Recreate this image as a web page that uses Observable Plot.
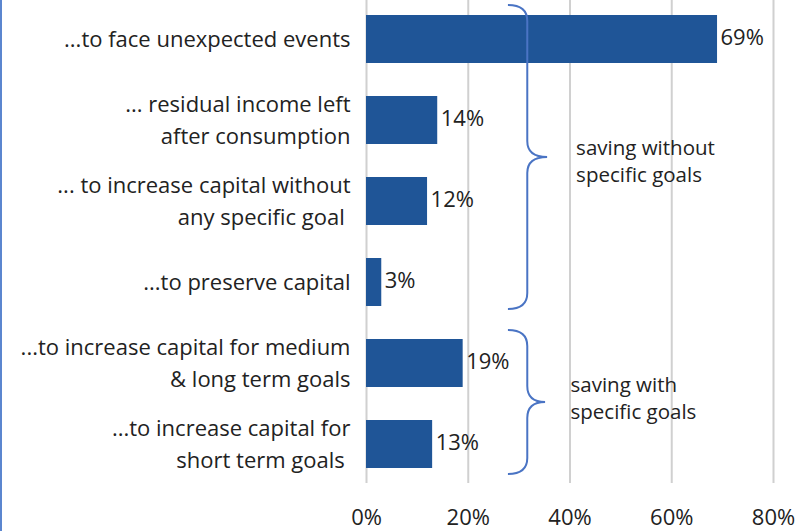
<!DOCTYPE html>
<html>
<head>
<meta charset="utf-8">
<script src="https://cdn.jsdelivr.net/npm/d3@7"></script>
<script src="https://cdn.jsdelivr.net/npm/@observablehq/plot@0.6"></script>
<style>
  html, body { margin: 0; padding: 0; background: #fff; }
  #wrap { position: relative; width: 805px; height: 531px; }
  #edge { position: absolute; left: 0; top: 0; width: 2px; height: 531px; background: #5b86cf; }
</style>
</head>
<body>
<div id="wrap"><div id="edge"></div></div>
<script>
const categories = [
  "...to face unexpected events",
  "... residual income left\nafter consumption",
  "... to increase capital without\nany specific goal\u00a0",
  "...to preserve capital",
  "...to increase capital for medium\n& long term goals",
  "...to increase capital for\nshort term goals\u00a0"
];
const values = [69, 14, 12, 3, 19, 13];
const xTicks = [0, 20, 40, 60, 80];
const groupLabels = ["saving without\nspecific goals", "saving with\nspecific goals"];
const groupFirst = [categories[0], categories[4]];
const groupLast = [categories[3], categories[5]];

const rows = categories.map((c, i) => ({category: c, value: values[i]}));
const groups = groupLabels.map((g, i) => ({label: g, first: groupFirst[i], last: groupLast[i]}));

const FONT = "'Open Sans', sans-serif";
const BLUE = "#1f5597";
const BRACE = "#4a74c4";

function braces(index, scales, vals, dims) {
  const x = scales.x, y = scales.y;
  const bw = (scales.scales && scales.scales.y && scales.scales.y.bandwidth) || 47;
  const g = d3.create("svg:g");
  groups.forEach((grp, i) => {
    const top = y(grp.first) - (i === 0 ? 10 : 9);
    const bot = y(grp.last) + bw + (i === 0 ? 3 : 6);
    const mid = (top + bot) / 2;
    const tip = x(27.9), spine = x(31.7), pt = x(35.6 - i * 0.4);
    const r = 16;
    const d = `M${tip},${top} Q${spine},${top} ${spine},${top + r} L${spine},${mid - r} Q${spine},${mid} ${pt},${mid} Q${spine},${mid} ${spine},${mid + r} L${spine},${bot - r} Q${spine},${bot} ${tip},${bot}`;
    g.append("path").attr("d", d).attr("fill", "none").attr("stroke", BRACE).attr("stroke-width", 2);
    const lines = grp.label.split("\n");
    const tx = x(i === 0 ? 41.3 : 40.2);
    const t = g.append("text")
      .attr("x", tx)
      .attr("y", mid + (i === 0 ? -2.5 : -10))
      .attr("text-anchor", "start")
      .attr("font-family", FONT).attr("font-size", 20.5).attr("fill", "#222");
    lines.forEach((ln, k) => {
      t.append("tspan").attr("x", tx)
        .attr("dy", k === 0 ? 0 : 27)
        .text(ln);
    });
  });
  return g.node();
}

const chart = Plot.plot({
  width: 805,
  height: 531,
  marginLeft: 366,
  marginRight: 32,
  marginTop: 0,
  marginBottom: 48,
  style: {fontFamily: FONT, fontSize: "22px", color: "#222", background: "transparent"},
  x: {domain: [0, 80], ticks: xTicks, tickFormat: d => d + "%", label: null},
  y: {domain: categories, paddingInner: 0.41, paddingOuter: 0.17, label: null},
  marks: [
    Plot.gridX(xTicks, {stroke: "#d0d0d0", strokeOpacity: 1, strokeWidth: 2}),
    Plot.axisX(xTicks, {tickSize: 0, tickPadding: 26, fontSize: 22, tickFormat: d => d + "%", label: null}),
    Plot.axisY({tickSize: 0, tickPadding: 16, dy: -3, fontSize: 22, lineHeight: 1.45, label: null, textOverflow: null, lineWidth: Infinity}),
    Plot.barX(rows, {x: "value", y: "category", fill: BLUE}),
    Plot.text(rows, {x: "value", y: "category", text: d => d.value + "%", textAnchor: "start", dx: 3, dy: -2, fontSize: 22, fill: "#222"}),
    braces
  ]
});
document.getElementById("wrap").appendChild(chart);
</script>
</body>
</html>
